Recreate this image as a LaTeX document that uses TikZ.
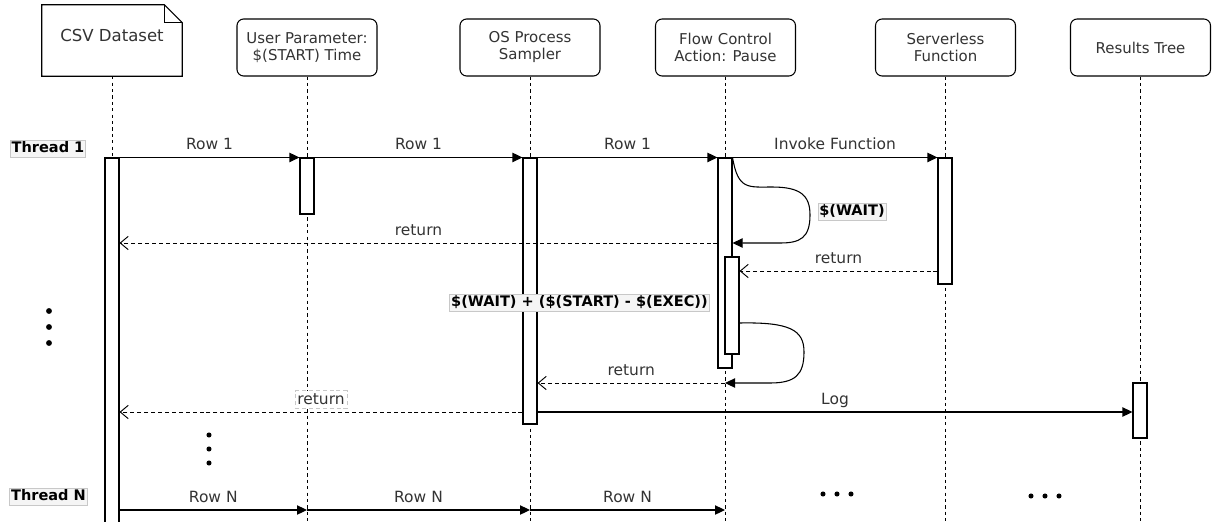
\documentclass[tikz,border=0pt]{standalone}
\usepackage{fontspec}
\setmainfont{DejaVu Sans}
\usepackage{xcolor}
\usetikzlibrary{arrows.meta,positioning,fit}

\definecolor{txtgray}{HTML}{333333}
\definecolor{tagfill}{HTML}{F5F5F5}
\definecolor{tagline}{HTML}{C8C8C8}

\begin{document}
\begin{tikzpicture}[
  x=0.75pt, y=-0.75pt,
  head/.style={draw, rounded corners=5pt, minimum width=105pt, minimum height=42.75pt, align=center, fill=white, text=txtgray, line width=0.8pt, font=\fontsize{11.2}{12.75}\selectfont},
  life/.style={dash pattern=on 2.4pt off 2.4pt, line width=0.7pt},
  bar/.style={draw, fill=white, inner sep=0pt, line width=0.8pt},
  msg/.style={-{Triangle[length=7.5pt,width=7pt]}, line width=0.8pt},
  ret/.style={dash pattern=on 3pt off 2.2pt, line width=0.7pt, -{Straight Barb[length=6pt,width=10pt]}},
  lbl/.style={text=txtgray, font=\fontsize{11.6}{13}\selectfont, inner sep=1pt, text height=1.5ex, text depth=.25ex},
  tag/.style={draw=tagline, fill=tagfill, line width=0.5pt, inner sep=1.1pt, text height=8.2pt, text depth=2.3pt, font=\bfseries\fontsize{10.9}{12}\selectfont}
]
  \useasboundingbox (0,0) rectangle (1212,521);

  % lifeline heads
  \node[minimum width=105pt, minimum height=53.25pt] (csv) at (112,40.5) {};
  \draw[fill=white, line width=0.8pt] (csv.north west) -- ([xshift=-13.5pt]csv.north east) -- ([yshift=-13.5pt]csv.north east) -- (csv.south east) -- (csv.south west) -- cycle;
  \draw[line width=0.8pt] ([xshift=-13.5pt]csv.north east) |- ([yshift=-13.5pt]csv.north east);
  \node[text=txtgray, font=\fontsize{12.4}{14}\selectfont] (csvname) at (112,35) {CSV Dataset};
  \node[head] (usr) at (307,47.5) {User Parameter:\\\$(START) Time};
  \node[head] (proc) at (530,47.5) {OS Process\\Sampler};
  \node[head] (flow) at (725.5,47.5) {Flow Control\\Action: Pause};
  \node[head] (faas) at (945.5,47.5) {Serverless\\Function};
  \node[head] (tree) at (1140.5,47.5) {Results Tree};

  \coordinate (bottom) at (0,521);
  \foreach \n in {csv,usr,proc,flow,faas,tree}
    \draw[life] (\n.south) -- (\n.south |- bottom);

  % activation bars
  \node[bar, fit={(105,158) (119,530)}] (bcsv) {};
  \node[bar, fit={(300,158) (314,214)}] (busr) {};
  \node[bar, fit={(523,158) (537,424)}] (bproc) {};
  \node[bar, fit={(718,158) (732,368)}] (bflow) {};
  \node[bar, fit={(725,257) (739,354)}] (bflow2) {};
  \node[bar, fit={(938,158) (952,284)}] (bfaas) {};
  \node[bar, fit={(1133,383) (1147,438)}] (btree) {};

  \coordinate (r1) at (0,243);
  \coordinate (r2) at (0,271);
  \coordinate (s2) at (0,323);
  \coordinate (r3) at (0,383);
  \coordinate (r4) at (0,412);
  \coordinate (rn) at (0,510);

  \node[tag] (t1) at (48,148.5) {Thread 1};
  \node[tag] (tn) at (48.5,497) {Thread N};

  % thread 1
  \draw[msg] (bcsv.east |- busr.north) -- node[lbl, above=3pt]{Row 1} (busr.north west);
  \draw[msg] (busr.north east) -- node[lbl, above=3pt]{Row 1} (bproc.north west);
  \draw[msg] (bproc.north east) -- node[lbl, above=3pt]{Row 1} (bflow.north west);
  \draw[msg] (bflow.north east) -- node[lbl, above=3pt]{Invoke Function} (bfaas.north west);
  \draw[msg] (bflow.north east) .. controls (738,190) and (748,187) .. (772,187)
    .. controls (800,187) and (810,195) .. (810,215)
    .. controls (810,238) and (800,243) .. (780,243) -- (bflow.east |- r1);
  \node[tag] (wait) at (852,212) {\$(WAIT)};
  \draw[ret] (bflow.west |- r1) -- node[lbl, above=3pt]{return} (bcsv.east |- r1);
  \draw[ret] (bfaas.west |- r2) -- node[lbl, above=3pt]{return} (bflow2.east |- r2);
  \node[tag] (delay) at (579.5,302.5) {\$(WAIT) + (\$(START) - \$(EXEC))};
  \draw[msg] (bflow2.east |- s2) .. controls (790,322) and (804,330) .. (804,352)
    .. controls (804,375) and (795,383) .. (770,383) -- (bflow.south |- r3);
  \draw[ret] (bflow.south |- r3) -- node[lbl, above=3pt]{return} (bproc.east |- r3);
  \draw[ret] (bproc.west |- r4) -- node[lbl, above=2.5pt, draw=tagline, fill=white, line width=0.5pt, inner sep=1.8pt]{return} (bcsv.east |- r4);
  \draw[msg] (bproc.east |- r4) -- node[lbl, above=3pt]{Log} (btree.west |- r4);

  % thread N
  \draw[msg] (bcsv.east |- rn) -- node[lbl, above=3pt]{Row N} (usr |- rn);
  \draw[msg] (usr |- rn) -- node[lbl, above=3pt]{Row N} (proc |- rn);
  \draw[msg] (proc |- rn) -- node[lbl, above=3pt]{Row N} (bflow.south |- rn);

  % ellipses
  \foreach \y in {311,327,343} \fill (49,\y) circle (2.2pt);
  \foreach \y in {435,449,463} \fill (209,\y) circle (1.9pt);
  \foreach \x in {823,837,851} \fill (\x,494) circle (1.9pt);
  \foreach \x in {1031,1045,1059} \fill (\x,496) circle (1.9pt);
\end{tikzpicture}
\end{document}
